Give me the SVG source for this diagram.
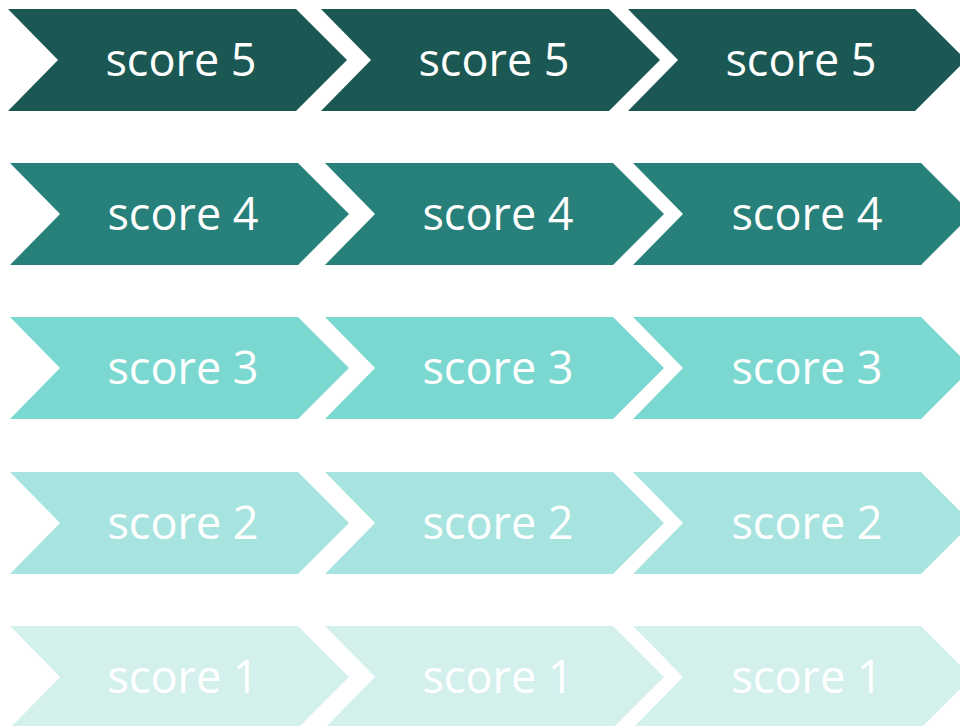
<svg xmlns="http://www.w3.org/2000/svg" width="960" height="726" viewBox="0 0 960 726">
<style>
.t{font-family:"Open Sans","DejaVu Sans",sans-serif;font-size:45px;fill:#ffffff;text-anchor:middle}
.r5{fill:#1B5853}.r4{fill:#27807A}.r3{fill:#7BD8D0}.r2{fill:#A8E4DF}.r1{fill:#D3F0ED}
</style>
<rect width="960" height="726" fill="#ffffff"/>
<g id="row5">
<g id="n5a"><path class="r5" d="M8,9 H296 L347,60 L296,111 H8 L58,60 Z"/><text class="t" x="181" y="76">score 5</text></g>
<g id="n5b"><path class="r5" d="M321,9 H609 L660,60 L609,111 H321 L371,60 Z"/><text class="t" x="494" y="76">score 5</text></g>
<g id="n5c"><path class="r5" d="M628,9 H915 L966,60 L915,111 H628 L678,60 Z"/><text class="t" x="801" y="76">score 5</text></g>
</g>
<g id="row4">
<g id="n4a"><path class="r4" d="M10,163 H298 L349,214 L298,265 H10 L60,214 Z"/><text class="t" x="183" y="230">score 4</text></g>
<g id="n4b"><path class="r4" d="M325,163 H613 L664,214 L613,265 H325 L375,214 Z"/><text class="t" x="498" y="230">score 4</text></g>
<g id="n4c"><path class="r4" d="M633,163 H921 L972,214 L921,265 H633 L683,214 Z"/><text class="t" x="807" y="230">score 4</text></g>
</g>
<g id="row3">
<g id="n3a"><path class="r3" d="M10,317 H298 L349,368 L298,419 H10 L60,368 Z"/><text class="t" x="183" y="384">score 3</text></g>
<g id="n3b"><path class="r3" d="M325,317 H613 L664,368 L613,419 H325 L375,368 Z"/><text class="t" x="498" y="384">score 3</text></g>
<g id="n3c"><path class="r3" d="M633,317 H921 L972,368 L921,419 H633 L683,368 Z"/><text class="t" x="807" y="384">score 3</text></g>
</g>
<g id="row2">
<g id="n2a"><path class="r2" d="M10,472 H298 L349,523 L298,574 H10 L60,523 Z"/><text class="t" x="183" y="539">score 2</text></g>
<g id="n2b"><path class="r2" d="M325,472 H613 L664,523 L613,574 H325 L375,523 Z"/><text class="t" x="498" y="539">score 2</text></g>
<g id="n2c"><path class="r2" d="M633,472 H921 L972,523 L921,574 H633 L683,523 Z"/><text class="t" x="807" y="539">score 2</text></g>
</g>
<g id="row1">
<g id="n1a"><path class="r1" d="M10,626 H298 L349,677 L298,728 H10 L60,677 Z"/><text class="t" x="183" y="693">score 1</text></g>
<g id="n1b"><path class="r1" d="M325,626 H613 L664,677 L613,728 H325 L375,677 Z"/><text class="t" x="498" y="693">score 1</text></g>
<g id="n1c"><path class="r1" d="M633,626 H921 L972,677 L921,728 H633 L683,677 Z"/><text class="t" x="807" y="693">score 1</text></g>
</g>
<g id="connectors"/>
</svg>
